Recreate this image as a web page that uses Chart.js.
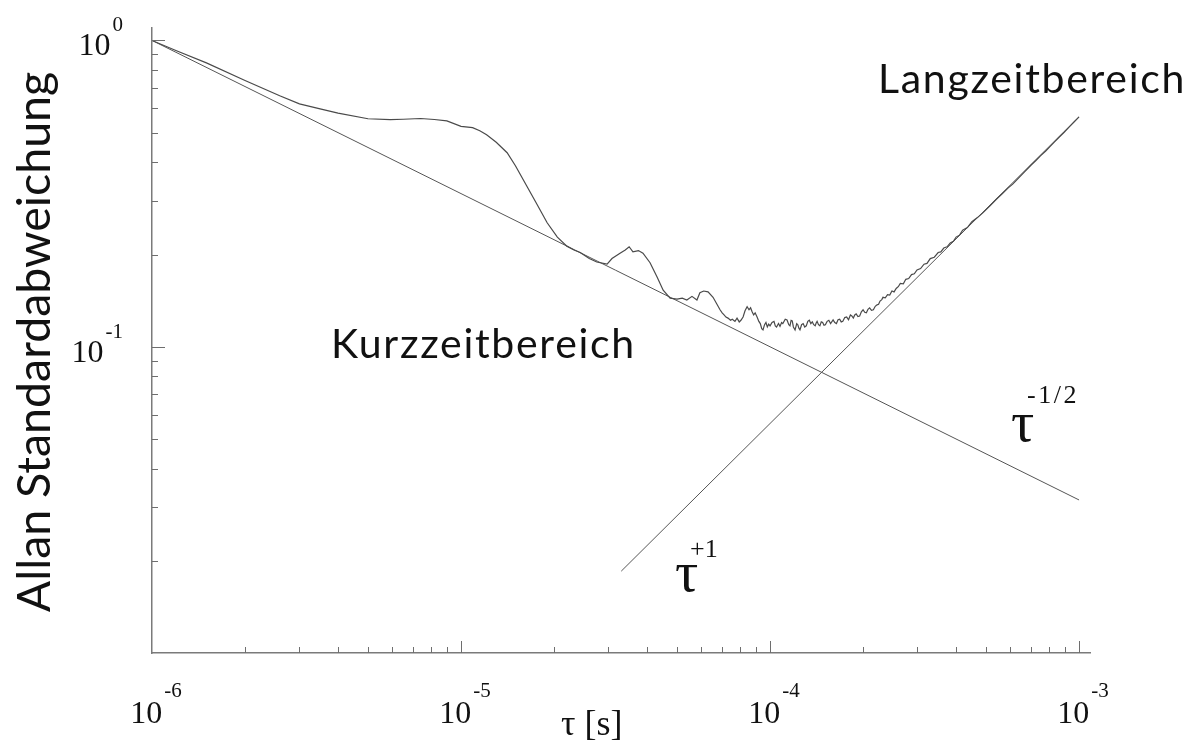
<!DOCTYPE html>
<html>
<head>
<meta charset="utf-8">
<script src="https://cdn.jsdelivr.net/npm/chart.js@4.4.1/dist/chart.umd.min.js"></script>
<style>
  html, body { margin: 0; padding: 0; background: #ffffff; }
  #wrap { width: 1194px; height: 742px; }
</style>
</head>
<body>
<div id="wrap"><canvas id="c" width="1194" height="742"></canvas></div>
<script>
// ---- data ----
const tau = [
  1.0e-6, 1.2e-6, 1.5e-6, 2.0e-6, 2.59e-6, 3.0e-6, 3.5e-6, 4.0e-6, 5.0e-6, 5.9e-6,
  6.5e-6, 7.4e-6, 8.2e-6, 9.0e-6, 1.0e-5, 1.09e-5, 1.15e-5, 1.21e-5, 1.3e-5, 1.41e-5,
  1.5e-5, 1.59e-5, 1.75e-5, 1.9e-5, 2.05e-5, 2.2e-5, 2.32e-5, 2.43e-5, 2.6e-5, 2.75e-5,
  2.97e-5, 3.08e-5, 3.27e-5, 3.4e-5, 3.5e-5, 3.6e-5, 3.75e-5, 3.88e-5, 4.09e-5, 4.31e-5,
  4.51e-5, 4.75e-5, 5.0e-5, 5.2e-5, 5.38e-5, 5.59e-5, 5.8e-5, 5.93e-5, 6.1e-5, 6.3e-5,
  6.54e-5,
  6.89e-5, 7.0e-5, 7.1e-5, 7.2e-5, 7.31e-5, 7.45e-5, 7.55e-5, 7.7e-5, 7.82e-5, 7.95e-5,
  8.05e-5, 8.18e-5, 8.3e-5, 8.43e-5, 8.55e-5, 8.65e-5, 8.75e-5, 8.85e-5, 8.95e-5, 9.08e-5,
  9.2e-5, 9.3e-5, 9.4e-5, 9.49e-5, 9.6e-5, 9.7e-5, 9.8e-5, 9.9e-5, 1.0e-4, 1.015e-4,
  1.03e-4, 1.04e-4, 1.05e-4, 1.065e-4, 1.077e-4, 1.09e-4, 1.1e-4, 1.12e-4, 1.135e-4, 1.15e-4,
  1.16e-4, 1.17e-4, 1.18e-4, 1.19e-4, 1.205e-4, 1.22e-4, 1.23e-4, 1.24e-4, 1.25e-4, 1.265e-4,
  1.28e-4, 1.295e-4, 1.31e-4, 1.325e-4, 1.34e-4, 1.355e-4, 1.37e-4, 1.385e-4, 1.40e-4, 1.41e-4,
  1.42e-4, 1.435e-4, 1.45e-4, 1.465e-4, 1.48e-4, 1.495e-4, 1.51e-4, 1.53e-4, 1.55e-4, 1.57e-4,
  1.60e-4, 1.62e-4, 1.64e-4, 1.66e-4, 1.68e-4, 1.70e-4, 1.72e-4, 1.745e-4, 1.77e-4, 1.795e-4,
  1.82e-4, 1.84e-4, 1.86e-4, 1.88e-4, 1.90e-4, 1.925e-4, 1.95e-4, 1.975e-4, 2.00e-4, 2.025e-4,
  2.05e-4, 2.075e-4, 2.10e-4, 2.13e-4, 2.16e-4, 2.19e-4, 2.22e-4, 2.245e-4, 2.27e-4, 2.30e-4,
  2.32e-4, 2.36e-4, 2.40e-4, 2.44e-4, 2.48e-4, 2.52e-4, 2.56e-4, 2.60e-4, 2.64e-4, 2.70e-4,
  2.75e-4, 2.81e-4, 2.87e-4, 2.93e-4, 2.99e-4, 3.07e-4, 3.15e-4, 3.22e-4, 3.3e-4, 3.4e-4,
  3.5e-4, 3.57e-4, 3.65e-4, 3.74e-4, 3.83e-4, 3.92e-4, 4.0e-4, 4.1e-4, 4.2e-4, 4.35e-4,
  4.5e-4, 4.7e-4, 4.89e-4, 5.15e-4, 5.4e-4, 5.65e-4, 5.9e-4, 6.1e-4, 6.3e-4, 6.65e-4,
  7.0e-4, 7.25e-4, 7.5e-4, 7.8e-4, 8.05e-4, 8.3e-4, 8.6e-4, 8.95e-4, 9.3e-4, 9.65e-4,
  1.0e-3
];
const sigma = [
  1.000, 0.925, 0.845, 0.740, 0.660, 0.621, 0.598, 0.579, 0.555, 0.551,
  0.553, 0.556, 0.552, 0.546, 0.524, 0.519, 0.507, 0.492, 0.465, 0.430,
  0.390, 0.351, 0.295, 0.254, 0.228, 0.213, 0.207, 0.203, 0.194, 0.189,
  0.186, 0.194, 0.202, 0.207, 0.212, 0.204, 0.206, 0.202, 0.188, 0.169,
  0.153, 0.144, 0.143, 0.144, 0.142, 0.146, 0.142, 0.150, 0.152, 0.151,
  0.145,
  0.132, 0.129, 0.127, 0.125, 0.124, 0.122, 0.123, 0.121, 0.124, 0.1205,
  0.122, 0.125, 0.131, 0.135, 0.132, 0.134, 0.130, 0.127, 0.129, 0.125,
  0.121, 0.119, 0.1145, 0.1135, 0.118, 0.120, 0.116, 0.1185, 0.117, 0.120,
  0.121, 0.117, 0.116, 0.119, 0.1165, 0.120, 0.119, 0.123, 0.1223, 0.118,
  0.117, 0.122, 0.1215, 0.116, 0.1135, 0.119, 0.118, 0.115, 0.1135, 0.118,
  0.119, 0.116, 0.117, 0.121, 0.122, 0.119, 0.1205, 0.118, 0.117, 0.1195,
  0.121, 0.118, 0.117, 0.1205, 0.120, 0.1175, 0.118, 0.121, 0.122, 0.119,
  0.1223, 0.120, 0.119, 0.1225, 0.123, 0.1205, 0.121, 0.1245, 0.125, 0.1225,
  0.127, 0.126, 0.124, 0.127, 0.128, 0.1255, 0.126, 0.130, 0.132, 0.1295,
  0.129, 0.1325, 0.134, 0.1315, 0.132, 0.1355, 0.137, 0.1375, 0.141, 0.1425,
  0.145, 0.1445, 0.148, 0.1475, 0.152, 0.151, 0.155, 0.157, 0.161, 0.1605,
  0.166, 0.167, 0.172, 0.173, 0.178, 0.180, 0.186, 0.187, 0.194, 0.196,
  0.203, 0.204, 0.210, 0.212, 0.218, 0.221, 0.228, 0.231, 0.240, 0.245,
  0.256, 0.2645, 0.274, 0.2885, 0.303, 0.3165, 0.330, 0.3395, 0.351, 0.3715,
  0.392, 0.4055, 0.420, 0.4355, 0.450, 0.4645, 0.482, 0.5015, 0.522, 0.5425,
  0.563
];
// reference slope lines (end points)
const lineHalfTau = [1.0e-6, 1.0e-3];
const lineHalfSigma = [1.0, 0.0316];
const lineOneTau = [3.3e-5, 1.0e-3];
const lineOneSigma = [0.0185, 0.563];

// axis ticks
const xMajorTicks = [1e-6, 1e-5, 1e-4, 1e-3];
const xTickExponents = ['-6', '-5', '-4', '-3'];
const yMajorTicks = [1, 0.1];
const yTickExponents = ['0', '-1'];
const minorMultipliers = [2, 3, 4, 5, 6, 7, 8, 9];
const xMinorDecades = [1e-6, 1e-5, 1e-4];
const yMinorDecades = [0.01, 0.1];

const xTitle = 'τ [s]';
const yTitle = 'Allan Standardabweichung';
const labelShort = 'Kurzzeitbereich';
const labelLong = 'Langzeitbereich';

// ---- chart ----
const pts = (xs, ys) => xs.map((x, i) => ({ x: x, y: ys[i] }));
const SERIF = '"Liberation Serif", "DejaVu Serif", serif';
const SANS = 'Lato, "Open Sans", sans-serif';

const decor = {
  id: 'decor',
  afterDraw(chart) {
    const ctx = chart.ctx;
    const xs = chart.scales.x, ys = chart.scales.y;
    const area = chart.chartArea;
    ctx.save();
    ctx.strokeStyle = '#6e6e6e';
    ctx.lineWidth = 1;
    // inward tick marks
    const xl = area.bottom, yl = area.left;
    xMinorDecades.forEach(d => minorMultipliers.forEach(m => {
      const px = Math.round(xs.getPixelForValue(d * m)) + 0.5;
      ctx.beginPath(); ctx.moveTo(px, xl); ctx.lineTo(px, xl - 6); ctx.stroke();
    }));
    xMajorTicks.slice(1).forEach(v => {
      const px = Math.round(xs.getPixelForValue(v)) + 0.5;
      ctx.beginPath(); ctx.moveTo(px, xl); ctx.lineTo(px, xl - 12); ctx.stroke();
    });
    yMinorDecades.forEach(d => minorMultipliers.forEach(m => {
      const py = Math.round(ys.getPixelForValue(d * m)) + 0.5;
      ctx.beginPath(); ctx.moveTo(yl, py); ctx.lineTo(yl + 6, py); ctx.stroke();
    }));
    yMajorTicks.forEach(v => {
      const py = Math.round(ys.getPixelForValue(v)) + 0.5;
      ctx.beginPath(); ctx.moveTo(yl, py); ctx.lineTo(yl + 13, py); ctx.stroke();
    });

    ctx.fillStyle = '#111';
    ctx.textBaseline = 'alphabetic';
    // x tick labels: 10^n
    xMajorTicks.forEach((v, i) => {
      const px = xs.getPixelForValue(v);
      ctx.font = '32px ' + SERIF;
      const wb = ctx.measureText('10').width;
      ctx.font = '21px ' + SERIF;
      const we = ctx.measureText(xTickExponents[i]).width;
      const left = px + 4 - (wb + 2 + we) / 2;
      ctx.font = '32px ' + SERIF;
      ctx.textAlign = 'left';
      ctx.fillText('10', left, 723);
      ctx.font = '21px ' + SERIF;
      ctx.fillText(xTickExponents[i], left + wb + 2, 697);
    });
    // y tick labels
    yMajorTicks.forEach((v, i) => {
      const py = ys.getPixelForValue(v);
      ctx.font = '21px ' + SERIF;
      const we = ctx.measureText(yTickExponents[i]).width;
      ctx.textAlign = 'right';
      ctx.fillText(yTickExponents[i], 123, py - 9);
      ctx.font = '32px ' + SERIF;
      ctx.fillText('10', 123 - we - 2, py + 15);
    });
    // axis titles
    ctx.textAlign = 'left';
    ctx.font = '36px ' + SERIF;
    ctx.fillText(xTitle, 561, 735);
    ctx.save();
    ctx.translate(50, 342);
    ctx.rotate(-Math.PI / 2);
    ctx.textAlign = 'center';
    ctx.font = '46.5px ' + SANS;
    ctx.fillText(yTitle, 0, 0);
    ctx.restore();
    // region labels
    ctx.textAlign = 'left';
    ctx.font = '41px ' + SANS;
    ctx.letterSpacing = '1.7px';
    ctx.fillText(labelShort, 331, 358);
    ctx.fillText(labelLong, 878, 93);
    ctx.letterSpacing = '0px';
    // slope labels
    ctx.font = '58px ' + SERIF;
    ctx.fillText('τ', 1011, 441);
    ctx.font = '26px ' + SERIF;
    ctx.letterSpacing = '2.5px';
    ctx.fillText('-1/2', 1027, 403);
    ctx.letterSpacing = '0px';
    ctx.font = '58px ' + SERIF;
    ctx.fillText('τ', 675, 591);
    ctx.font = '26px ' + SERIF;
    ctx.fillText('+1', 690, 557);
    ctx.restore();
  }
};

const lineStyle = { showLine: true, pointRadius: 0, borderColor: '#555555', borderWidth: 1, fill: false, tension: 0 };

new Chart(document.getElementById('c'), {
  type: 'scatter',
  data: {
    datasets: [
      Object.assign({ label: 'σ', data: pts(tau, sigma) }, lineStyle, { borderColor: '#4a4a4a', borderWidth: 1.2 }),
      Object.assign({ label: 'τ^-1/2', data: pts(lineHalfTau, lineHalfSigma) }, lineStyle),
      Object.assign({ label: 'τ^+1', data: pts(lineOneTau, lineOneSigma) }, lineStyle)
    ]
  },
  options: {
    responsive: false,
    animation: false,
    devicePixelRatio: 1,
    layout: { padding: { left: 144, top: 28, right: 104, bottom: 81 } },
    plugins: { legend: { display: false }, tooltip: { enabled: false } },
    scales: {
      x: {
        type: 'logarithmic', min: 1e-6, max: 1.085e-3,
        ticks: { display: false },
        grid: { display: false },
        border: { display: true, color: '#7a7a7a', width: 1.5 }
      },
      y: {
        type: 'logarithmic', min: 0.01, max: 1.098,
        ticks: { display: false },
        grid: { display: false },
        border: { display: true, color: '#7a7a7a', width: 1.5 }
      }
    }
  },
  plugins: [decor]
});
</script>
</body>
</html>
